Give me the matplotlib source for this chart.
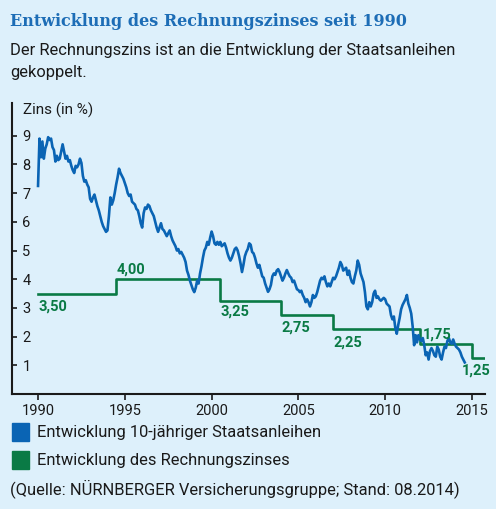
import numpy as np
import matplotlib.pyplot as plt
from matplotlib.patches import Rectangle

# Rendite 10-jaehriger Staatsanleihen, Monatswerte ab Jan 1990
bund_1990_1994 = [
    7.25, 8.9, 8.25, 8.8, 8.2, 8.55, 8.7, 8.95, 8.85, 8.9, 8.6, 8.5,
    8.1, 8.3, 8.15, 8.2, 8.45, 8.7, 8.45, 8.2, 8.3, 8.1, 8.15, 7.95,
    7.8, 7.7, 7.95, 7.9, 8.0, 8.2, 8.05, 7.6, 7.4, 7.45, 7.3, 7.2,
    6.8, 6.7, 6.85, 6.95, 6.75, 6.55, 6.4, 6.2, 6.0, 5.85, 5.75, 5.65,
    5.7, 6.2, 6.85, 6.6, 6.75, 7.0, 7.3, 7.55, 7.85, 7.7, 7.6, 7.5,
]
bund_1995_1999 = [
    7.35, 7.2, 7.0, 6.9, 6.95, 6.7, 6.65, 6.6, 6.45, 6.4, 6.2, 5.95,
    5.8, 6.3, 6.5, 6.45, 6.6, 6.55, 6.4, 6.3, 6.2, 6.0, 5.8, 5.65,
    5.8, 5.95, 5.75, 5.7, 5.6, 5.5, 5.6, 5.7, 5.5, 5.35, 5.25, 5.15,
    5.0, 5.05, 4.9, 4.95, 4.85, 4.75, 4.6, 4.3, 4.15, 3.95, 3.8, 3.65,
    3.55, 3.7, 3.95, 3.85, 4.2, 4.45, 4.75, 5.0, 5.1, 5.3, 5.2, 5.45,
]
bund_2000_2004 = [
    5.66, 5.5, 5.25, 5.2, 5.3, 5.2, 5.3, 5.15, 5.2, 5.25, 5.1, 4.9,
    4.75, 4.65, 4.75, 4.9, 5.05, 5.1, 5.0, 4.8, 4.55, 4.25, 4.5, 4.8,
    4.95, 5.05, 5.25, 5.2, 4.95, 4.9, 4.75, 4.55, 4.4, 4.5, 4.3, 4.1,
    4.05, 3.85, 3.7, 3.56, 3.65, 3.8, 4.1, 4.2, 4.15, 4.3, 4.35, 4.25,
    4.1, 3.95, 4.05, 4.2, 4.32, 4.2, 4.1, 4.05, 3.9, 3.95, 3.8, 3.65,
]
bund_2005_2009 = [
    3.62, 3.55, 3.6, 3.45, 3.35, 3.2, 3.3, 3.2, 3.05, 3.2, 3.45, 3.35,
    3.4, 3.55, 3.75, 3.95, 4.05, 4.0, 4.1, 3.9, 3.75, 3.85, 3.75, 3.9,
    4.05, 4.0, 4.1, 4.25, 4.4, 4.6, 4.5, 4.3, 4.35, 4.4, 4.15, 4.3,
    4.05, 3.9, 3.85, 4.1, 4.3, 4.65, 4.5, 4.2, 4.05, 3.9, 3.55, 3.05,
    2.95, 3.2, 3.05, 3.2, 3.5, 3.6, 3.35, 3.4, 3.3, 3.25, 3.3, 3.35,
]
bund_2010_2014 = [
    3.3, 3.15, 3.1, 3.05, 2.75, 2.6, 2.7, 2.3, 2.1, 2.4, 2.65, 2.95,
    3.1, 3.2, 3.3, 3.45, 3.15, 3.0, 2.8, 2.35, 1.7, 2.05, 1.8, 2.05,
    1.9, 1.85, 1.95, 1.7, 1.35, 1.45, 1.2, 1.5, 1.6, 1.5, 1.35, 1.3,
    1.65, 1.55, 1.3, 1.2, 1.45, 1.65, 1.6, 1.85, 1.95, 1.8, 1.75, 1.9,
    1.75, 1.65, 1.6, 1.55, 1.45, 1.3, 1.2, 1.1,
]

# Rechnungszins (Hoechstrechnungszins), Stufen
zins_start = [1990.0, 1994.5, 2000.5, 2004.0, 2007.0, 2012.0, 2015.0]
zins_werte = [3.50, 4.00, 3.25, 2.75, 2.25, 1.75, 1.25]
zins_ende = 2015.7
zins_labels = ['3,50', '4,00', '3,25', '2,75', '2,25', '1,75', '1,25']
label_pos = [(1990.0, 3.03), (1994.5, 4.32), (2000.5, 2.87), (2004.0, 2.32),
             (2007.0, 1.80), (2012.15, 2.06), (2014.42, 0.81)]

jahre = [1990, 1995, 2000, 2005, 2010, 2015]
zins_ticks = [1, 2, 3, 4, 5, 6, 7, 8, 9]

BG = '#ddf0fb'
BLAU = '#0a64b4'
GRUEN = '#0a7a45'
TEXT = '#1a1a1a'
SANS = ['Roboto', 'DejaVu Sans']

bund = bund_1990_1994 + bund_1995_1999 + bund_2000_2004 + bund_2005_2009 + bund_2010_2014
t = 1990 + np.arange(len(bund)) / 12.0

fig = plt.figure(figsize=(4.96, 5.09), dpi=100, facecolor=BG)
ax = fig.add_axes([12 / 496, 115 / 509, 473 / 496, 291 / 509])
ax.set_facecolor(BG)

ax.plot(t, bund, color=BLAU, lw=1.9, zorder=3)
ax.step(zins_start + [zins_ende], zins_werte + [zins_werte[-1]], where='post',
        color=GRUEN, lw=1.9, zorder=2)

for (x, y), s in zip(label_pos, zins_labels):
    ax.text(x, y, s, color=GRUEN, fontsize=10.5, fontweight='semibold', family=SANS,
            ha='left', va='center', zorder=4)

ax.set_xlim(1988.5, 2015.75)
ax.set_ylim(0, 10.14)
ax.set_xticks(jahre)
ax.set_yticks(zins_ticks)
for s in ['top', 'right']:
    ax.spines[s].set_visible(False)
for s in ['left', 'bottom']:
    ax.spines[s].set_linewidth(1.5)
    ax.spines[s].set_color(TEXT)
ax.tick_params(axis='x', direction='out', length=4, width=1.2, labelsize=10.5, pad=3,
               colors=TEXT)
ax.tick_params(axis='y', direction='in', length=3.5, width=1.2, labelsize=10.5, pad=-7.5,
               colors=TEXT)
for lab in ax.get_yticklabels():
    lab.set_horizontalalignment('left')
for lab in ax.get_xticklabels() + ax.get_yticklabels():
    lab.set_family(SANS)

fig.text(23 / 496, 1 - 110 / 509, 'Zins (in %)', fontsize=11, family=SANS,
         color=TEXT, va='center', ha='left')

fig.text(10 / 496, 1 - 21 / 509, 'Entwicklung des Rechnungszinses seit 1990',
         fontsize=11.5, fontweight='bold', family=['DejaVu Serif'], color='#1d6db6',
         va='center', ha='left')
fig.text(10 / 496, 1 - 50 / 509, 'Der Rechnungszins ist an die Entwicklung der Staatsanleihen',
         fontsize=11.9, family=SANS, color=TEXT, va='center', ha='left')
fig.text(10 / 496, 1 - 72 / 509, 'gekoppelt.',
         fontsize=11.9, family=SANS, color=TEXT, va='center', ha='left')

# Legende
for yc, farbe, txt in [(432, BLAU, 'Entwicklung 10-jähriger Staatsanleihen'),
                       (460, GRUEN, 'Entwicklung des Rechnungszinses')]:
    fig.patches.append(Rectangle((11.5 / 496, 1 - (yc + 9) / 509), 17 / 496, 18 / 509,
                                 transform=fig.transFigure, color=farbe))
    fig.text(37 / 496, 1 - yc / 509, txt, fontsize=11.9, family=SANS,
             color=TEXT, va='center', ha='left')

fig.text(10 / 496, 1 - 489 / 509, '(Quelle: NÜRNBERGER Versicherungsgruppe; Stand: 08.2014)',
         fontsize=11.9, family=SANS, color=TEXT, va='center', ha='left')

fig.savefig('out.png', dpi=100, facecolor=BG)
